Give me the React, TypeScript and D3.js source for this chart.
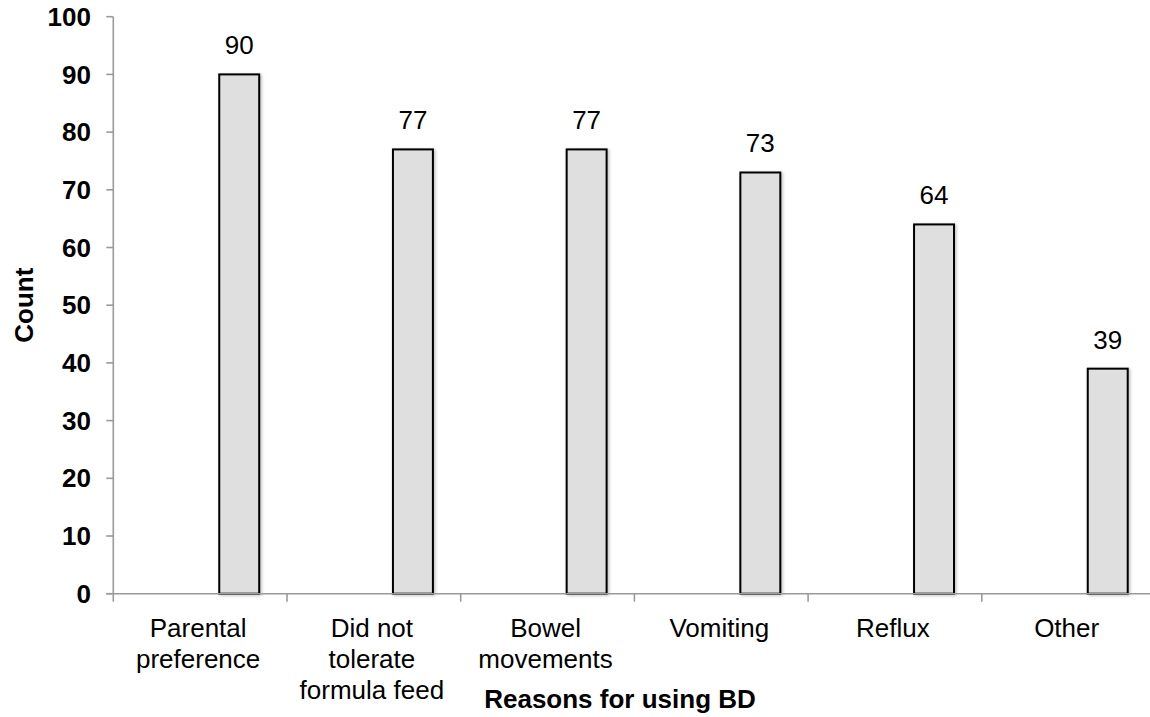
import React from "react";
import * as d3 from "d3";

const categories: string[][] = [
  ["Parental", "preference"],
  ["Did not", "tolerate", "formula feed"],
  ["Bowel", "movements"],
  ["Vomiting"],
  ["Reflux"],
  ["Other"],
];
const values: number[] = [90, 77, 77, 73, 64, 39];
const yTicks: number[] = [0, 10, 20, 30, 40, 50, 60, 70, 80, 90, 100];
const yTitle = "Count";
const xTitle = "Reasons for using BD";

const W = 1150;
const H = 717;
const left = 113.3;
const right = 1155.5;
const top = 16.7;
const bottom = 593.7;
const FONT = "'Liberation Sans', Arial, sans-serif";

export default function App() {
  const x = d3
    .scaleBand<number>()
    .domain(d3.range(categories.length))
    .range([left, right])
    .paddingInner(0)
    .paddingOuter(0);
  const y = d3.scaleLinear().domain([0, 100]).range([bottom, top]);
  const bw = x.bandwidth();
  const barOff = 0.61 * bw;
  const barW = 0.23 * bw;
  const axisColor = "#9a9a9a";

  return (
    <svg
      width={W}
      height={H}
      style={{ position: "absolute", left: 0, top: 0, background: "#fff" }}
      fontFamily={FONT}
    >
      <defs>
        <filter id="sh" x="-20%" y="-5%" width="150%" height="115%">
          <feDropShadow dx="1.5" dy="1" stdDeviation="1.5" floodColor="#000" floodOpacity="0.25" />
        </filter>
      </defs>
      {/* y axis */}
      <line x1={left} x2={left} y1={top} y2={bottom} stroke={axisColor} strokeWidth={1.6} />
      {yTicks.map((t) => (
        <g key={t}>
          <line x1={left - 7} x2={left} y1={y(t)} y2={y(t)} stroke={axisColor} strokeWidth={1.6} />
          <text
            x={91}
            y={y(t)}
            dy="0.35em"
            textAnchor="end"
            fontWeight="bold"
            fontSize={26}
            fill="#000"
          >
            {t}
          </text>
        </g>
      ))}
      {/* bars */}
      {values.map((v, i) => (
        <g key={i}>
          <rect
            x={(x(i) as number) + barOff}
            y={y(v)}
            width={barW}
            height={y(0) - y(v)}
            fill="#dfdfdf"
            stroke="#000"
            strokeWidth={2}
            filter="url(#sh)"
          />
          <text
            x={(x(i) as number) + barOff + barW / 2}
            y={y(v) - 20}
            textAnchor="middle"
            fontSize={26}
            fill="#000"
          >
            {v}
          </text>
        </g>
      ))}
      {/* x axis */}
      <line x1={left - 7} x2={right} y1={bottom} y2={bottom} stroke={axisColor} strokeWidth={1.6} />
      {d3.range(categories.length + 1).map((i) => {
        const xx = left + i * bw;
        return (
          <line key={i} x1={xx} x2={xx} y1={bottom} y2={bottom + 8} stroke={axisColor} strokeWidth={1.6} />
        );
      })}
      {categories.map((lines, i) => (
        <text
          key={i}
          x={(x(i) as number) + bw / 2 - 2}
          y={637}
          textAnchor="middle"
          fontSize={26}
          fill="#000"
        >
          {lines.map((l, j) => (
            <tspan key={j} x={(x(i) as number) + bw / 2 - 2} y={637 + j * 31}>
              {l}
            </tspan>
          ))}
        </text>
      ))}
      <text x={620} y={708} textAnchor="middle" fontWeight="bold" fontSize={26} fill="#000">
        {xTitle}
      </text>
      <text
        transform={`translate(33, ${(top + bottom) / 2}) rotate(-90)`}
        textAnchor="middle"
        fontWeight="bold"
        fontSize={26}
        fill="#000"
      >
        {yTitle}
      </text>
    </svg>
  );
}
